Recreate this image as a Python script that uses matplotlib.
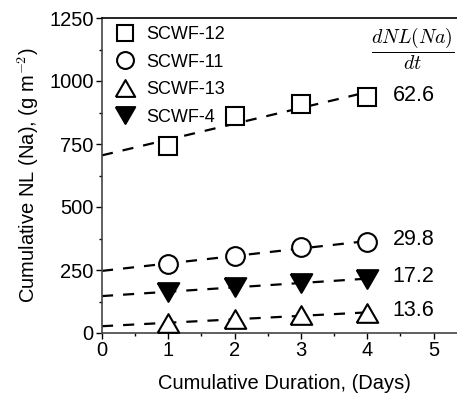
import numpy as np
import matplotlib
matplotlib.use("Agg")
import matplotlib.pyplot as plt
from matplotlib.ticker import MultipleLocator

# data
days = [1, 2, 3, 4]
series_names = ["SCWF-12", "SCWF-11", "SCWF-13", "SCWF-4"]
nl_scwf12 = [742, 861, 909, 935]
nl_scwf11 = [275, 305, 340, 362]
nl_scwf13 = [38, 57, 71, 79]
nl_scwf4 = [163, 182, 199, 215]
rate_labels = ["62.6", "29.8", "13.6", "17.2"]

plt.rcParams["font.family"] = ["Liberation Sans", "DejaVu Sans"]
plt.rcParams["mathtext.fontset"] = "cm"

tri_up = [(-1, -0.866), (1, -0.866), (0, 0.866), (-1, -0.866)]
tri_dn = [(-1, 0.866), (1, 0.866), (0, -0.866), (-1, 0.866)]
styles = {
    "SCWF-12": dict(marker="s", ms=12.5, mfc="white"),
    "SCWF-11": dict(marker="o", ms=13.5, mfc="white"),
    "SCWF-13": dict(marker=tri_up, ms=15.5, mfc="white"),
    "SCWF-4": dict(marker=tri_dn, ms=15.5, mfc="black"),
}
values = {"SCWF-12": nl_scwf12, "SCWF-11": nl_scwf11,
          "SCWF-13": nl_scwf13, "SCWF-4": nl_scwf4}

fig = plt.figure(figsize=(4.57, 3.98), dpi=100)
ax = fig.add_axes([102 / 457, 65 / 398, 66.3 * 5.5 / 457, 315 / 398])

x = np.array(days, dtype=float)
xfit = np.linspace(0, 4, 50)
for name, lab in zip(series_names, rate_labels):
    y = np.array(values[name], dtype=float)
    slope, icpt = np.polyfit(x, y, 1)
    ax.plot(xfit, slope * xfit + icpt, color="black", lw=1.6,
            dashes=(5, 4.5), zorder=2)
    ax.plot(x, y, linestyle="none", mec="black", mew=1.5,
            label=name, zorder=3, **styles[name])
    ax.text(4.38, y[-1] + (8 if name != "SCWF-13" else 12), lab,
            fontsize=15.5, va="center", ha="left")

ax.text(4.69, 1128, r"$\dfrac{dNL(Na)}{dt}$", fontsize=14.3,
        ha="center", va="center")

ax.set_xlim(0, 5.5)
ax.set_ylim(0, 1250)
ax.xaxis.set_major_locator(MultipleLocator(1))
ax.xaxis.set_minor_locator(MultipleLocator(0.5))
ax.yaxis.set_major_locator(MultipleLocator(250))
ax.yaxis.set_minor_locator(MultipleLocator(125))
ax.tick_params(which="major", length=4, width=1, labelsize=14.5, pad=2)
ax.tick_params(which="minor", length=2.5, width=1)
ax.spines["right"].set_visible(False)
for s in ["left", "bottom"]:
    ax.spines[s].set_color("#444444")
    ax.spines[s].set_linewidth(1.2)
ax.spines["top"].set_linewidth(1.2)

ax.set_xlabel("Cumulative Duration, (Days)", fontsize=14.5, labelpad=10)
ax.set_ylabel("Cumulative NL (Na), (g m$^{-2}$)", fontsize=14.5, labelpad=6)

ax.legend(loc="upper left", frameon=False, fontsize=13, handletextpad=0.7,
          labelspacing=0.58, borderaxespad=0.05, handlelength=1.0,
          markerscale=0.9, bbox_to_anchor=(0.015, 1.0))

fig.savefig("out.png", dpi=100)
